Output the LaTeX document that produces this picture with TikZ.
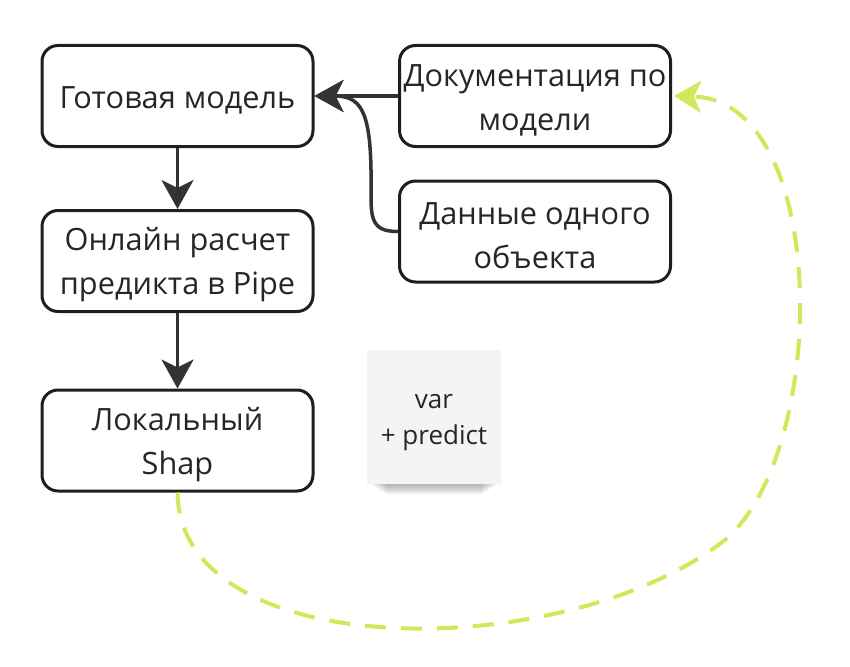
\documentclass[tikz,border=0pt]{standalone}
\usepackage{fontspec}
\setmainfont{Open Sans}
\usetikzlibrary{arrows.meta}
\definecolor{edge}{HTML}{1E1E1E}
\definecolor{arr}{HTML}{333333}
\definecolor{lime}{HTML}{D4E65A}
\definecolor{note}{HTML}{F3F4F6}
\begin{document}
\begin{tikzpicture}[x=1pt,y=-1pt,
  box/.style={draw=edge, line width=3pt, rounded corners=16pt, fill=white, minimum width=271pt, minimum height=101pt, inner sep=0pt},
  txt/.style={align=center, font=\fontsize{30.7}{44}\selectfont, text=black!85, inner sep=0pt},
  conn/.style={draw=arr, line width=3.5pt, -{Stealth[length=29pt,width=32pt,inset=8pt]}},
  back/.style={draw=lime, line width=4pt, dash pattern=on 21pt off 15pt, -{Stealth[length=27pt,width=32pt,inset=7pt,fill=lime]}}]
\useasboundingbox (0,0) rectangle (850,666);
\node[box] (gm) at (177.5,96) {};
\node[txt] (gmt) at ([yshift=-4pt]gm.center) {Готовая модель};
\node[box] (doc) at (535,96) {};
\node[txt] (doct) at ([yshift=-4pt]doc.center) {Документация по\\модели};
\node[box] (dat) at (535,231.5) {};
\node[txt] (datt) at ([yshift=-4pt]dat.center) {Данные одного\\объекта};
\node[box] (onl) at (177.5,261) {};
\node[txt] (onlt) at ([yshift=-4pt]onl.center) {Онлайн расчет\\предикта в Pipe};
\node[box] (loc) at (177.5,440.5) {};
\node[txt] (loct) at ([yshift=-4pt]loc.center) {Локальный\\Shap};
% sticky note shadow
\foreach \i in {0,1,...,9}{
  \fill[black, opacity=0.04] (368+\i*2,470) rectangle (500-\i*2,483+\i*1.3);
}
\node[fill=note, minimum width=134pt, minimum height=134pt, inner sep=0pt] (note) at (434,417) {};
\node[txt, font=\fontsize{26}{36}\selectfont] (notet) at ([yshift=-6pt]note.center) {var\\+ predict};
\draw[conn] (doc.west) -- (gm.east);
\draw[conn] (dat.west) .. controls (365,232) and (372,210) .. (371,170) .. controls (370,110) and (360,96) .. (gm.east);
\draw[conn] (gm.south) -- (onl.north);
\draw[conn] (onl.south) -- (loc.north);
\draw[back] (loc.south) .. controls (180,665) and (565,665) .. (725,540) .. controls (830,450) and (830,100) .. ([xshift=2pt]doc.east);
\end{tikzpicture}
\end{document}
